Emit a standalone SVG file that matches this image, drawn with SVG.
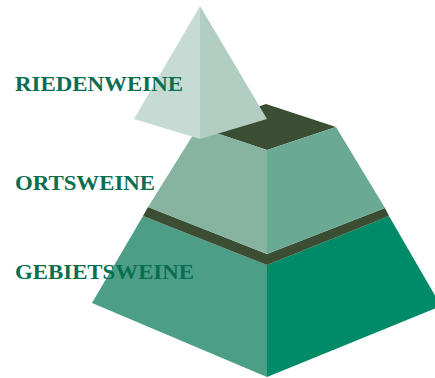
<svg xmlns="http://www.w3.org/2000/svg" width="435" height="378" viewBox="0 0 435 378">
<style>
.lbl{font-family:"Liberation Serif","Times New Roman",serif;font-weight:bold;font-size:20px;fill:#0a6e50}
</style>
<rect width="435" height="378" fill="#ffffff"/>
<g id="tier-gebiet">
<polygon points="143,216 267,265 267,377 92,303" fill="#4c9e86"/>
<polygon points="267,265 389,216 441,306 267,377" fill="#008b68"/>
<polygon points="148,207 267,254 385,208 389,216 267,265 143,216" fill="#3b4d33"/>
</g>
<g id="tier-orts">
<polygon points="198,127 266,104 336,127 267,150" fill="#3b4d33"/>
<polygon points="198,127 267,150 267,254 148,207" fill="#86b4a1"/>
<polygon points="267,150 336,127 385,208 267,254" fill="#6aa993"/>
</g>
<g id="tier-rieden">
<polygon points="200,6 134,119 200,139" fill="#c6dbd3"/>
<polygon points="200,6 200,139 267,119" fill="#b2cdc2"/>
</g>
<g id="labels">
<text class="lbl" x="15" y="90.5" textLength="168" lengthAdjust="spacingAndGlyphs">RIEDENWEINE</text>
<text class="lbl" x="15" y="190" textLength="140" lengthAdjust="spacingAndGlyphs">ORTSWEINE</text>
<text class="lbl" x="15" y="278.5" textLength="179" lengthAdjust="spacingAndGlyphs">GEBIETSWEINE</text>
</g>
<g id="connectors"></g>
</svg>
